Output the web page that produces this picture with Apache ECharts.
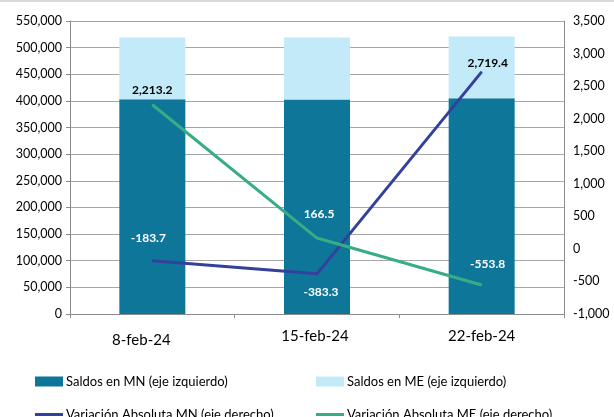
<!DOCTYPE html>
<html lang="es">
<head>
    <meta charset="UTF-8">
    <title>Saldos y variaciones</title>
    <script src="https://cdn.jsdelivr.net/npm/echarts@6/dist/echarts.min.js"></script>
    <style>
        body { margin: 0; background: #ffffff; }
        #chart { width: 614px; height: 417px; }
    </style>
</head>
<body>
<div id="chart"></div>
<script>
    // datos
    var fechas = ['8-feb-24', '15-feb-24', '22-feb-24'];
    var saldosMN = [402900, 402500, 405200];
    var saldosME = [116300, 116500, 115900];
    var varMN = [-183.7, -383.3, 2719.4];
    var varME = [2213.2, 166.5, -553.8];

    // posicion de cada etiqueta: [posicion, distancia, dx, color]
    var etiqMN = [['top', 16, -4, '#ffffff'], ['bottom', 12, 4, '#ffffff'], ['top', 2, 6, '#000000']];
    var etiqME = [['top', 8, 0, '#000000'], ['top', 17, 2, '#ffffff'], ['top', 14, 6, '#ffffff']];
    // desplazamiento de las fechas como en el original
    var padFechas = [[4, 22, 0, 0], [0, 4, 0, 0], [0, 0, 0, 0]];

    var fuente = 'Lato';
    var azul = '#33409c';
    var verde = '#36ad85';

    function conEtiquetas(valores, etiq) {
        return valores.map(function (v, i) {
            return {
                value: v,
                label: {
                    position: etiq[i][0],
                    distance: etiq[i][1],
                    offset: [etiq[i][2], 0],
                    color: etiq[i][3]
                }
            };
        });
    }

    function fmt(v) {
        return v.toLocaleString('en-US', { minimumFractionDigits: 1, maximumFractionDigits: 1 });
    }

    var chart = echarts.init(document.getElementById('chart'));

    var legendaBase = {
        orient: 'horizontal',
        itemWidth: 28,
        itemGap: 0,
        textStyle: { fontFamily: fuente, fontSize: 13, color: '#000000', padding: [0, 0, 0, -2] },
        selectedMode: false
    };

    var option = {
        animation: false,
        textStyle: { fontFamily: fuente },
        graphic: [{
            type: 'line',
            shape: { x1: 0, y1: 1, x2: 614, y2: 1 },
            style: { stroke: '#d9d9d9', lineWidth: 2 }
        }],
        legend: [
            Object.assign({}, legendaBase, {
                left: 30, top: 370, itemHeight: 10, icon: 'rect',
                data: ['Saldos en MN (eje izquierdo)']
            }),
            Object.assign({}, legendaBase, {
                left: 311, top: 370, itemHeight: 10, icon: 'rect',
                data: ['Saldos en ME (eje izquierdo)']
            }),
            Object.assign({}, legendaBase, {
                left: 30, top: 403, itemHeight: 3, icon: 'rect',
                data: ['Variación Absoluta MN (eje derecho)']
            }),
            Object.assign({}, legendaBase, {
                left: 311, top: 403, itemHeight: 3, icon: 'rect',
                data: ['Variación Absoluta ME (eje derecho)']
            })
        ],
        grid: { left: 70, right: 50, top: 21, bottom: 103 },
        xAxis: {
            type: 'category',
            data: fechas.map(function (f, i) {
                return { value: f, textStyle: { padding: padFechas[i] } };
            }),
            axisLine: { lineStyle: { color: '#8c8c8c' } },
            axisTick: { show: true, length: 4, alignWithLabel: false, lineStyle: { color: '#8c8c8c' } },
            axisLabel: { fontFamily: fuente, fontSize: 15, color: '#000000', margin: 15 }
        },
        yAxis: [{
            type: 'value',
            min: 0,
            max: 550000,
            interval: 50000,
            axisLine: { show: true, lineStyle: { color: '#8c8c8c' } },
            axisTick: { show: true, length: 4, lineStyle: { color: '#8c8c8c' } },
            splitLine: { lineStyle: { color: '#a6a6a6', width: 1 } },
            axisLabel: {
                fontFamily: fuente, fontSize: 12.5, color: '#000000', margin: 8,
                formatter: function (v) { return v.toLocaleString('en-US'); }
            }
        }, {
            type: 'value',
            min: -1000,
            max: 3500,
            interval: 500,
            position: 'right',
            axisLine: { show: true, lineStyle: { color: '#8c8c8c' } },
            axisTick: { show: false },
            splitLine: { show: false },
            axisLabel: {
                fontFamily: fuente, fontSize: 12.5, color: '#000000', margin: 9,
                formatter: function (v) { return v.toLocaleString('en-US'); }
            }
        }],
        series: [{
            name: 'Saldos en MN (eje izquierdo)',
            type: 'bar',
            stack: 'saldos',
            barWidth: 66,
            data: saldosMN,
            itemStyle: { color: '#0e7699' }
        }, {
            name: 'Saldos en ME (eje izquierdo)',
            type: 'bar',
            stack: 'saldos',
            barWidth: 66,
            data: saldosME,
            itemStyle: { color: '#c2eaf8' }
        }, {
            name: 'Variación Absoluta MN (eje derecho)',
            type: 'line',
            yAxisIndex: 1,
            symbol: 'circle',
            symbolSize: 1,
            data: conEtiquetas(varMN, etiqMN),
            lineStyle: { color: azul, width: 3 },
            itemStyle: { color: azul },
            label: {
                show: true,
                fontFamily: fuente, fontSize: 12, fontWeight: 'bold',
                formatter: function (p) { return fmt(p.value); }
            },
            z: 5
        }, {
            name: 'Variación Absoluta ME (eje derecho)',
            type: 'line',
            yAxisIndex: 1,
            symbol: 'circle',
            symbolSize: 1,
            data: conEtiquetas(varME, etiqME),
            lineStyle: { color: verde, width: 3 },
            itemStyle: { color: verde },
            label: {
                show: true,
                fontFamily: fuente, fontSize: 12, fontWeight: 'bold',
                formatter: function (p) { return fmt(p.value); }
            },
            z: 5
        }]
    };

    chart.setOption(option);
</script>
</body>
</html>
